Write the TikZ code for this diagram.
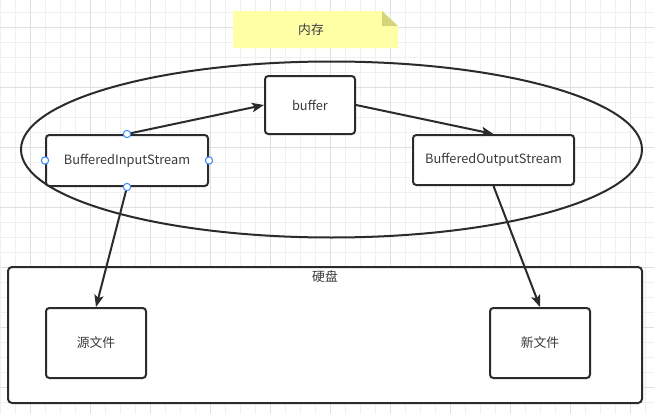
\documentclass[tikz,border=0pt]{standalone}
\usepackage{fontspec}
\setmainfont{Noto Sans CJK SC}
\usetikzlibrary{arrows.meta}
\definecolor{txt}{HTML}{3A3A3A}
\definecolor{ln}{HTML}{2B2B2B}
\definecolor{gridminor}{HTML}{F0F0F0}
\definecolor{gridmajor}{HTML}{E0E0E0}
\definecolor{notefill}{HTML}{FFFFA6}
\definecolor{notefold}{HTML}{D4D47A}
\definecolor{handle}{HTML}{3D8BFF}
\tikzset{
  lbl/.style={text=txt, font=\fontsize{9.6}{11}\selectfont},
  box/.style={draw=ln, line width=1.5pt, rounded corners=2.5pt, fill=white, lbl},
  conn/.style={draw=ln, line width=1.5pt, -{Stealth[length=9pt,width=7pt,inset=2pt]}},
  hnd/.style={circle, draw=handle, fill=white, line width=0.8pt, inner sep=0pt, minimum size=5.5pt},
}
\begin{document}
\begin{tikzpicture}[x=0.75pt,y=-0.75pt]
\useasboundingbox (0,0) rectangle (654,414);
\fill[white] (0,0) rectangle (654,414);
% grid
\foreach \x in {0,15,...,650} \draw[gridminor, line width=0.6pt] (\x,0) -- (\x,414);
\foreach \y in {12,27,...,414} \draw[gridminor, line width=0.6pt] (0,\y) -- (654,\y);
\foreach \x in {30,90,...,650} \draw[gridmajor, line width=0.6pt] (\x,0) -- (\x,414);
\foreach \y in {27,87,...,414} \draw[gridmajor, line width=0.6pt] (0,\y) -- (654,\y);
% note
\fill[notefill] (233,11) -- (382,11) -- (398,26) -- (398,48) -- (233,48) -- cycle;
\fill[notefold] (382,11) -- (398,26) -- (382,26) -- cycle;
\node[lbl] (mem) at (311,30) {内存};
% ellipse
\draw[ln, line width=1.5pt] (331.5,149.5) ellipse [x radius=310.5, y radius=88];
% disk
\draw[ln, line width=1.5pt, rounded corners=3pt, fill=white] (8,267) rectangle (642,403);
\node[lbl] (disk) at (325,277) {硬盘};
% nodes
\node[box, minimum width=90pt*0.75, minimum height=58pt*0.75] (buf) at (310,105) {buffer};
\node[box, minimum width=162pt*0.75, minimum height=51pt*0.75] (bis) at (127,160.5) {BufferedInputStream};
\node[box, minimum width=161pt*0.75, minimum height=50pt*0.75] (bos) at (493.5,160) {BufferedOutputStream};
\node[box, minimum width=100pt*0.75, minimum height=70pt*0.75] (src) at (96,343) {源文件};
\node[box, minimum width=100pt*0.75, minimum height=70pt*0.75] (dst) at (540,343) {新文件};
% connectors
\draw[conn] (bis.north) -- (buf.west);
\draw[conn] (buf.east) -- (bos.north);
\draw[conn] (bis.south) -- (src.north);
\draw[conn] (bos.south) -- (dst.north);
% handles
\node[hnd] (h1) at (bis.north) {};
\node[hnd] (h2) at (bis.south) {};
\node[hnd] (h3) at (bis.west) {};
\node[hnd] (h4) at (bis.east) {};
\end{tikzpicture}
\end{document}
